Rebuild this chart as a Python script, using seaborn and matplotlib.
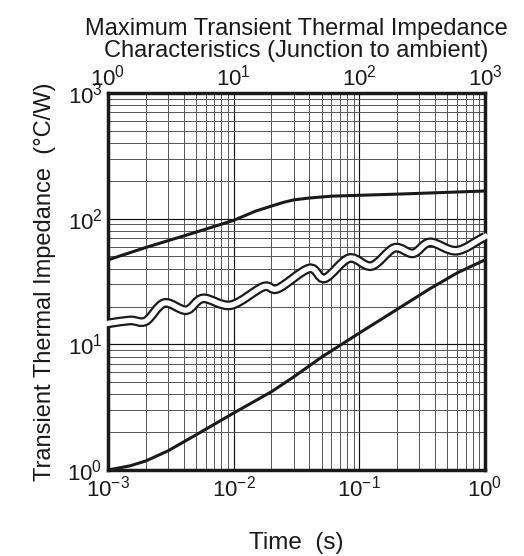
import numpy as np
import pandas as pd
import matplotlib
matplotlib.use("Agg")
import matplotlib.pyplot as plt
from matplotlib.path import Path
from matplotlib.patches import PathPatch
import seaborn as sns

# upper curve (junction to ambient, long pulse region)
upper_t = [0.001, 0.002, 0.005, 0.01, 0.015, 0.02, 0.025, 0.03, 0.04, 0.06, 0.21, 1.0]
upper_z = [47, 59, 78, 97, 115, 126, 135, 141, 146, 151, 157, 166]

# lower curve (short pulse region)
lower_t = [0.001, 0.0015, 0.002, 0.003, 0.005, 0.01, 0.02, 0.03, 0.05, 0.1, 0.2,
           0.36, 0.6, 1.0]
lower_z = [1.0, 1.08, 1.18, 1.42, 1.9, 2.84, 4.2, 5.5, 7.9, 12.3, 19.0, 27.5, 37, 47]

# wavy break line between the two regions (crests and troughs)
break_t = [0.00101, 0.0015, 0.002, 0.0028, 0.0042, 0.0057, 0.0095, 0.0172, 0.0225,
           0.04, 0.053, 0.083, 0.125, 0.19, 0.268, 0.365, 0.594, 1.0]
break_z = [14.7, 15.5, 15.3, 21.3, 18.7, 23.2, 20.5, 28.7, 27.8, 40.2, 33.5, 48.5,
           42.0, 58.5, 53.0, 64.8, 55.6, 72.0]


def smooth_path(t, z):
    # Catmull-Rom through the points, done in log space and drawn as cubic Beziers
    p = np.column_stack([np.log10(t), np.log10(z)])
    ext = np.vstack([2 * p[0] - p[1], p, 2 * p[-1] - p[-2]])
    verts = [p[0]]
    codes = [Path.MOVETO]
    for i in range(1, len(ext) - 2):
        p0, p1, p2, p3 = ext[i - 1], ext[i], ext[i + 1], ext[i + 2]
        verts += [p1 + (p2 - p0) / 6, p2 - (p3 - p1) / 6, p2]
        codes += [Path.CURVE4] * 3
    return Path(10 ** np.array(verts), codes)


sns.set_style("white")
plt.rcParams['font.family'] = ['Liberation Sans', 'DejaVu Sans']
plt.rcParams['mathtext.fontset'] = 'custom'
plt.rcParams['mathtext.rm'] = 'Liberation Sans'
plt.rcParams['mathtext.it'] = 'Liberation Sans'

ink = "#1a1a1a"
fig = plt.figure(figsize=(5.24, 5.56), dpi=100)
ax = fig.add_axes([108 / 524, 86 / 556, 377 / 524, 377 / 556])

df_up = pd.DataFrame({"t": upper_t, "z": upper_z})
df_lo = pd.DataFrame({"t": lower_t, "z": lower_z})

sns.lineplot(data=df_up, x="t", y="z", color=ink, lw=2.2, ax=ax,
             sort=False, estimator=None, zorder=4)
sns.lineplot(data=df_lo, x="t", y="z", color=ink, lw=2.2, ax=ax,
             sort=False, estimator=None, zorder=4)

ax.set_xscale("log")
ax.set_yscale("log")
ax.set_xlim(1e-3, 1)
ax.set_ylim(1, 1000)

# double line break: dark outline with white core, cutting through the frame
wave = smooth_path(break_t, break_z)
ax.add_patch(PathPatch(wave, fill=False, ec=ink, lw=7, zorder=5, clip_on=False,
                       capstyle="butt"))
ax.add_patch(PathPatch(wave, fill=False, ec="white", lw=3.8, zorder=6, clip_on=False,
                       capstyle="projecting"))

ax.grid(which="major", color="#111111", lw=0.85)
ax.grid(which="minor", color="#555555", lw=0.7)
ax.set_axisbelow(True)
for s in ax.spines.values():
    s.set_linewidth(2.5)
    s.set_color(ink)
    s.set_zorder(3)

ax.tick_params(which="both", length=0, labelsize=16, pad=4, colors=ink)
ax.set_xlabel("Time  (s)", fontsize=17.5, labelpad=22, color=ink)
ax.set_ylabel("Transient Thermal Impedance  (°C/W)", fontsize=17, labelpad=8,
              color=ink)

# top axis, the same data with time in ms
top = ax.twiny()
top.set_xscale("log")
top.set_xlim(1, 1000)
top.tick_params(which="both", length=0, labelsize=16, pad=2, colors=ink)
top.grid(False)
for s in top.spines.values():
    s.set_visible(False)

top.set_title("Maximum Transient Thermal Impedance\nCharacteristics (Junction to ambient)",
              fontsize=17, pad=5, color=ink, linespacing=1.05)

fig.savefig("out.png", dpi=100)
